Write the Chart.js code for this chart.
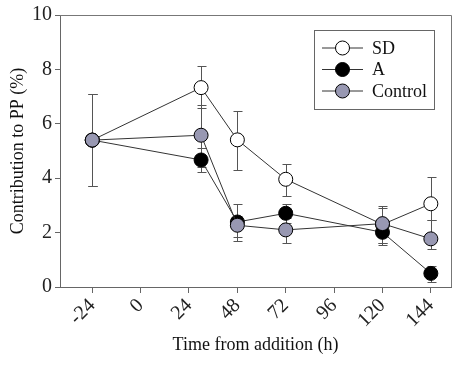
<!DOCTYPE html>
<html>
<head>
<meta charset="utf-8">
<script src="https://cdn.jsdelivr.net/npm/chart.js@4"></script>
<style>
  html, body { margin: 0; padding: 0; background: #fff; }
  #wrap { width: 459px; height: 365px; }
</style>
</head>
<body>
<div id="wrap"><canvas id="chart" width="459" height="365"></canvas></div>
<script>
const hours = [-24, 30, 48, 72, 120, 144];
const xTicks = [-24, 0, 24, 48, 72, 96, 120, 144];

const sdMean = [5.4, 7.33, 5.41, 3.96, 2.3, 3.06];
const sdUp   = [1.7, 0.78, 1.06, 0.57, 0.69, 0.97];
const sdDown = [1.7, 0.76, 1.1, 0.6, 0.69, 0.6];

const aMean = [5.4, 4.67, 2.39, 2.71, 2.01, 0.5];
const aUp   = [1.7, 0.45, 0.66, 0.35, 0.45, 0.28];
const aDown = [1.7, 0.46, 0.7, 0.35, 0.47, 0.3];

const ctrlMean = [5.4, 5.58, 2.27, 2.1, 2.33, 1.77];
const ctrlUp   = [1.7, 1.12, 0.35, 0.45, 0.56, 0.7];
const ctrlDown = [1.7, 1.15, 0.42, 0.47, 0.7, 0.38];

const FONT = "'Liberation Serif'";

function pts(mean) {
  return hours.map((h, i) => ({ x: h, y: mean[i] }));
}

const series = [
  { label: 'SD', mean: sdMean, up: sdUp, down: sdDown, fill: '#ffffff', order: 3 },
  { label: 'A', mean: aMean, up: aUp, down: aDown, fill: '#000000', order: 2 },
  { label: 'Control', mean: ctrlMean, up: ctrlUp, down: ctrlDown, fill: '#9898b2', order: 1 }
];

// error bars, drawn under the markers
const errorBars = {
  id: 'errorBars',
  beforeDatasetsDraw(chart) {
    const { ctx, scales: { x, y } } = chart;
    ctx.save();
    ctx.strokeStyle = '#555';
    ctx.lineWidth = 1;
    series.forEach(s => {
      hours.forEach((h, i) => {
        const px = Math.round(x.getPixelForValue(h)) + 0.5;
        const top = Math.round(y.getPixelForValue(s.mean[i] + s.up[i])) + 0.5;
        const bot = Math.round(y.getPixelForValue(s.mean[i] - s.down[i])) + 0.5;
        ctx.beginPath();
        ctx.moveTo(px, top); ctx.lineTo(px, bot);
        ctx.moveTo(px - 4, top); ctx.lineTo(px + 5, top);
        ctx.moveTo(px - 4, bot); ctx.lineTo(px + 5, bot);
        ctx.stroke();
      });
    });
    ctx.restore();
  }
};

// box round the plot and the legend
const frame = {
  id: 'frame',
  afterDraw(chart) {
    const { ctx, chartArea: a } = chart;
    ctx.save();
    ctx.strokeStyle = '#777';
    ctx.lineWidth = 1;
    ctx.beginPath();
    ctx.moveTo(a.left, a.top + 0.5); ctx.lineTo(a.right + 0.5, a.top + 0.5);
    ctx.lineTo(a.right + 0.5, a.bottom);
    ctx.stroke();

    const bx = 314, by = 30, bw = 120, bh = 79;
    ctx.fillStyle = '#fff';
    ctx.fillRect(bx, by, bw, bh);
    ctx.strokeStyle = '#666';
    ctx.strokeRect(bx + 0.5, by + 0.5, bw, bh);
    ctx.font = '18px ' + FONT;
    ctx.textBaseline = 'middle';
    series.forEach((s, i) => {
      const ly = by + 18 + i * 21.5;
      ctx.strokeStyle = '#333';
      ctx.beginPath();
      ctx.moveTo(322, ly); ctx.lineTo(363, ly);
      ctx.stroke();
      ctx.beginPath();
      ctx.arc(342.5, ly, 7, 0, Math.PI * 2);
      ctx.fillStyle = s.fill;
      ctx.fill();
      ctx.strokeStyle = '#000';
      ctx.stroke();
      ctx.fillStyle = '#111';
      ctx.fillText(s.label, 372, ly + 1);
    });
    ctx.restore();
  }
};

new Chart(document.getElementById('chart'), {
  type: 'line',
  data: {
    datasets: series.map(s => ({
      label: s.label,
      data: pts(s.mean),
      order: s.order,
      borderColor: '#333',
      borderWidth: 1,
      pointRadius: 7,
      pointHoverRadius: 7,
      pointBorderWidth: 1,
      pointBorderColor: '#000',
      pointBackgroundColor: s.fill,
      fill: false,
      tension: 0
    }))
  },
  options: {
    responsive: false,
    animation: false,
    layout: { padding: { top: 9, right: 7, left: 0, bottom: 0 } },
    plugins: { legend: { display: false }, tooltip: { enabled: false } },
    scales: {
      x: {
        type: 'linear',
        min: -40,
        max: 154,
        afterBuildTicks: sc => { sc.ticks = xTicks.map(v => ({ value: v })); },
        afterFit: sc => { sc.height = 78; },
        border: { color: '#666', width: 1 },
        grid: { drawOnChartArea: false, drawTicks: true, tickLength: 6, color: '#666' },
        ticks: {
          minRotation: 45, maxRotation: 45, padding: 1,
          color: '#222', font: { family: FONT, size: 20 }
        },
        title: {
          display: true, text: 'Time from addition (h)',
          color: '#111', font: { family: FONT, size: 18 },
          padding: { bottom: 9 }
        }
      },
      y: {
        min: 0,
        max: 10,
        afterFit: sc => { sc.width = 60; },
        border: { color: '#666', width: 1 },
        grid: { drawOnChartArea: false, drawTicks: true, tickLength: 5, color: '#666' },
        ticks: {
          stepSize: 2, padding: 3,
          color: '#222', font: { family: FONT, size: 20 }
        },
        title: {
          display: true, text: 'Contribution to PP (%)',
          color: '#111', font: { family: FONT, size: 18 },
          padding: { top: 7 }
        }
      }
    }
  },
  plugins: [errorBars, frame]
});
</script>
</body>
</html>
